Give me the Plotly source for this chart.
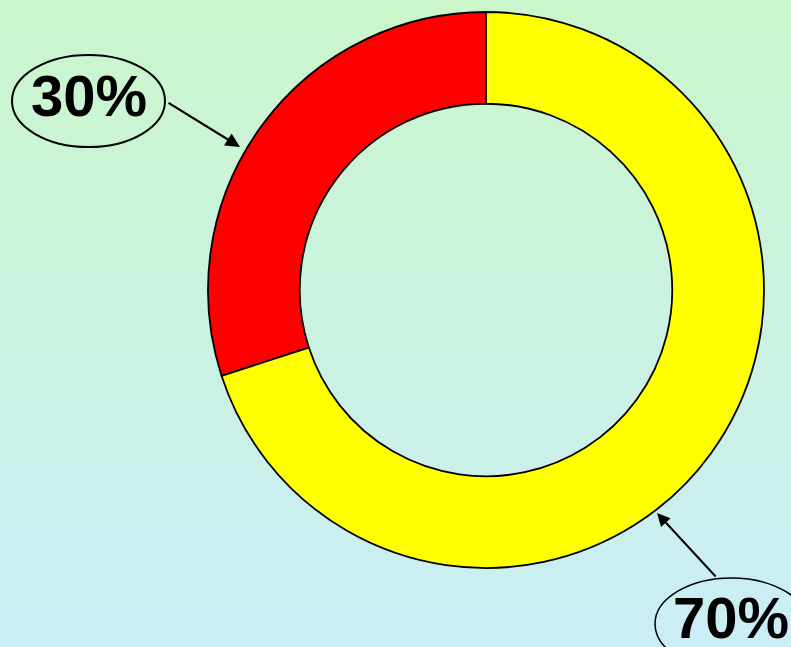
import plotly.graph_objects as go

labels = ["A", "B"]
values = [30, 70]
colors = ["#FF0000", "#FFFF00"]
label_texts = ["30%", "70%"]

W, H = 791, 647

def px(x):
    return x / W

def py(y):
    return 1 - y / H

fig = go.Figure()
fig.add_trace(go.Pie(
    labels=labels, values=values, sort=False, direction="clockwise",
    rotation=-108, hole=0.67, textinfo="none", hoverinfo="none",
    marker=dict(colors=colors, line=dict(color="black", width=1.8)),
    domain=dict(x=[px(208), px(764)], y=[py(568), py(12)]),
    showlegend=False,
))

# background gradient strips
shapes = []
top = (203, 246, 203)
bot = (203, 237, 246)
N = 80
for i in range(N):
    t = i / (N - 1)
    c = tuple(round(top[k] + (bot[k] - top[k]) * t) for k in range(3))
    shapes.append(dict(type="rect", xref="paper", yref="paper", layer="below",
                       x0=0, x1=1, y0=1 - (i + 1) / N - 0.002, y1=1 - i / N,
                       fillcolor="rgb(%d,%d,%d)" % c, line=dict(width=0)))

# ellipses around labels
shapes.append(dict(type="circle", xref="paper", yref="paper",
                   x0=px(12), x1=px(165), y0=py(147), y1=py(55),
                   line=dict(color="black", width=2)))
shapes.append(dict(type="circle", xref="paper", yref="paper",
                   x0=px(655), x1=px(808), y0=py(670), y1=py(578),
                   line=dict(color="black", width=1.5)))

font = dict(family="Liberation Sans, Arial, sans-serif", size=58, color="black")
annotations = [
    dict(text="<b>%s</b>" % label_texts[0], x=px(89), y=py(96), xref="paper", yref="paper",
         showarrow=False, font=font, xanchor="center", yanchor="middle"),
    dict(text="<b>%s</b>" % label_texts[1], x=px(731), y=py(617), xref="paper", yref="paper",
         showarrow=False, font=font, xanchor="center", yanchor="middle"),
    dict(text="", x=px(240), y=py(147), xref="paper", yref="paper",
         showarrow=True, ax=-73, ay=-45, arrowhead=2, arrowsize=1.3, arrowwidth=2.2,
         arrowcolor="black"),
    dict(text="", x=px(657), y=py(513), xref="paper", yref="paper",
         showarrow=True, ax=60, ay=65, arrowhead=2, arrowsize=1.3, arrowwidth=2,
         arrowcolor="black"),
]

fig.update_layout(
    width=W, height=H, margin=dict(l=0, r=0, t=0, b=0),
    paper_bgcolor="rgb(203,241,225)", plot_bgcolor="rgba(0,0,0,0)",
    shapes=shapes, annotations=annotations,
)
fig.write_html("out.html", config={"displayModeBar": False},
               post_script="document.body.style.margin='0';document.body.style.overflow='hidden';")
